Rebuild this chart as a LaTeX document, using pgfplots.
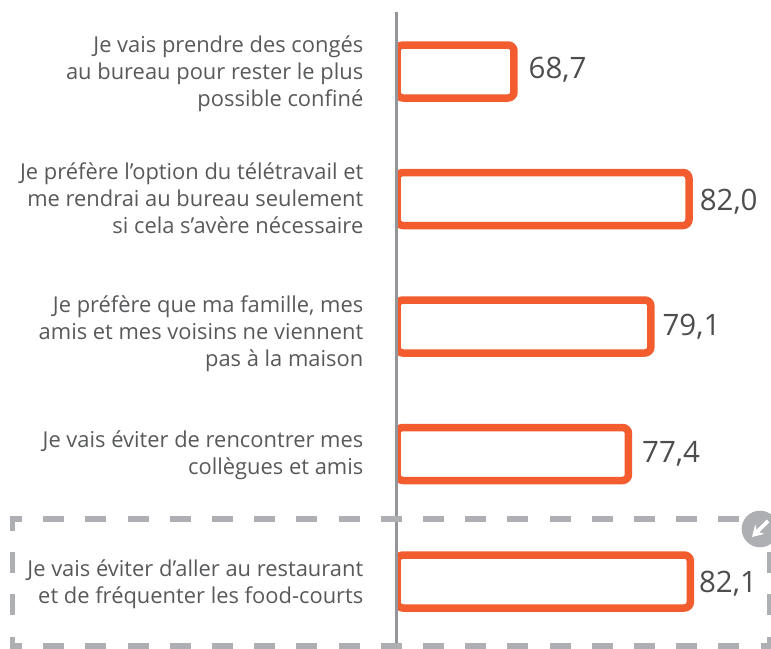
\documentclass[border=0pt]{standalone}
\usepackage{pgfplots}
\usepackage{pgfplotstable}
\pgfplotsset{compat=1.18}
\usepackage{fontspec}
\setmainfont{Open Sans}
\usetikzlibrary{arrows.meta}
\definecolor{barorange}{HTML}{F25C2E}
\definecolor{labelgrey}{HTML}{58595B}
\definecolor{valuegrey}{HTML}{4D4D4F}
\definecolor{axisgrey}{HTML}{939598}
\definecolor{dashgrey}{HTML}{AEAFB2}
\pgfplotstableread{
pos value dx dy
0 68.7 11 2
1 82.0 7 -3
2 79.1 8 0
3 77.4 10 0
4 82.1 5 -2
}\datatable
\begin{document}
\begin{tikzpicture}[x=1pt,y=1pt]
\useasboundingbox (0,0) rectangle (771,648);
\clip (0,0) rectangle (771,648);
\begin{axis}[
  at={(397pt,0pt)}, anchor=south west,
  scale only axis, width=374pt, height=648pt,
  xmin=59.81, xmax=88.23,
  ymin=-0.5608, ymax=4.5216, y dir=reverse,
  axis line style={draw=none},
  xtick=\empty,
  ytick={0.0235,1,2.0627,3.0196,4.0314},
  yticklabels={
    {Je vais prendre des congés\\au bureau pour rester le plus\\possible confiné},
    {Je préfère l’option du télétravail et\\me rendrai au bureau seulement\\si cela s’avère nécessaire},
    {Je préfère que ma famille, mes\\amis et mes voisins ne viennent\\pas à la maison},
    {Je vais éviter de rencontrer mes\\collègues et amis},
    {Je vais éviter d’aller au restaurant\\et de fréquenter les food-courts}},
  major tick length=0pt,
  tick label style={inner sep=0pt},
  yticklabel style={align=right, text=labelgrey, font=\fontsize{21.9}{27}\selectfont, xshift=-33.5pt, yshift=1pt},
  clip=true,
  xbar, bar shift=0pt, bar width=53pt,
  nodes near coords,
  point meta=explicit,
  visualization depends on={\thisrow{dx} \as \dx},
  visualization depends on={\thisrow{dy} \as \dy},
  nodes near coords style={
    anchor=west, inner sep=0pt, xshift=\dx pt, yshift=\dy pt, text=valuegrey,
    font=\fontsize{29.5}{34}\selectfont,
    /pgf/number format/.cd, fixed, fixed zerofill, precision=1, use comma, assume math mode=true},
]
\addplot[draw=barorange, fill=white, line width=7.5pt, rounded corners=6pt]
  table[x=value, y=pos, meta=value] {\datatable};
\end{axis}
\draw[axisgrey, line width=2.6pt] (396.5,636) -- (396.5,0);
\begin{scope}[dashgrey, line width=5.5pt]
  \draw[dash pattern=on 21pt off 21.2pt, dash phase=9pt] (10,129) -- (741,129);
  \draw[dash pattern=on 21pt off 21.2pt, dash phase=9pt] (10,2) -- (771,2);
  \draw[dash pattern=on 21pt off 21.2pt, dash phase=7pt] (12.5,131) -- (12.5,0);
  \draw[dash pattern=on 21pt off 21.2pt, dash phase=7pt] (770,131) -- (770,0);
\end{scope}
\fill[dashgrey] (760,119) circle (18.3);
\draw[white, line width=3.6pt, -{Stealth[length=11pt,width=13pt]}] (768,127) -- (752,111);
\end{tikzpicture}
\end{document}
